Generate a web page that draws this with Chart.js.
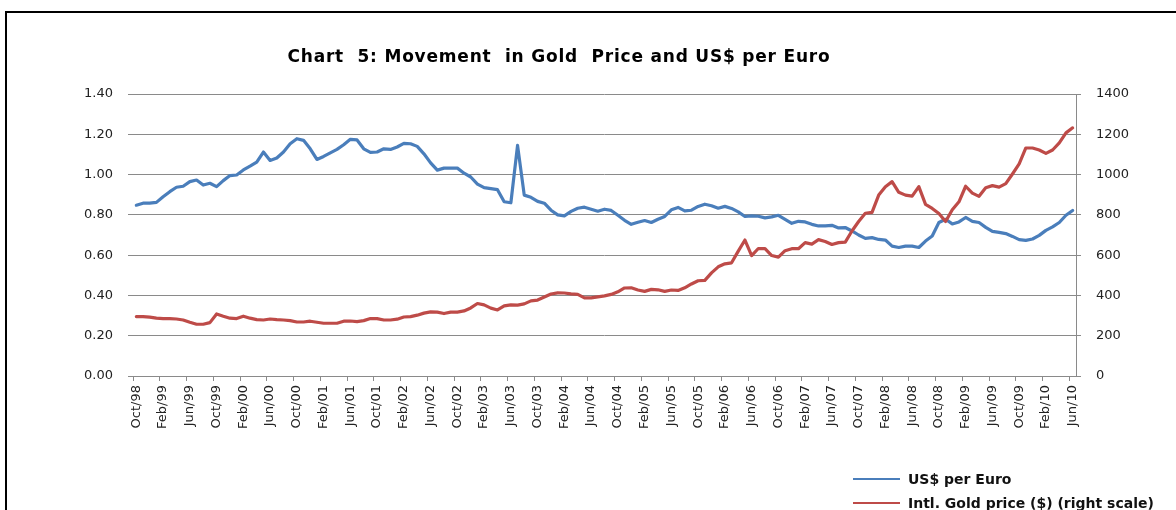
<!DOCTYPE html>
<html>
<head>
<meta charset="utf-8">
<script src="https://cdn.jsdelivr.net/npm/chart.js@4.4.1/dist/chart.umd.min.js"></script>
<style>
  body { margin: 0; background: #fff; }
  #wrap { position: relative; width: 1176px; height: 510px; overflow: hidden; background: #fff; }
  #frame { position: absolute; left: 5px; top: 11px; width: 1300px; height: 600px; border-top: 2px solid #000; border-left: 2px solid #000; }
  #goldChart { position: absolute; left: 0; top: 0; }
  #title { position: absolute; left: 209px; width: 700px; top: 46px; text-align: center; white-space: pre;
           font: bold 17px "DejaVu Sans", sans-serif; letter-spacing: 0.8px; color: #000; }
  #legend { position: absolute; left: 853px; top: 467px; font: bold 14px "DejaVu Sans", sans-serif; color: #111; }
  #legend .row { height: 24px; display: flex; align-items: center; white-space: nowrap; }
  #legend .swatch { width: 47px; height: 2px; margin-right: 8px; }
</style>
</head>
<body>
<div id="wrap">
  <div id="frame"></div>
  <canvas id="goldChart" width="1176" height="510"></canvas>
  <div id="title"></div>
  <div id="legend"></div>
</div>
<script>
// monthly, Oct/98 .. Jun/10
const monthNames = ['Jan', 'Feb', 'Mar', 'Apr', 'May', 'Jun', 'Jul', 'Aug', 'Sep', 'Oct', 'Nov', 'Dec'];
const startYear = 1998;
const startMonth = 9; // Oct
const monthCount = 141;

const chartTitle = 'Chart  5: Movement  in Gold  Price and US$ per Euro';

const usdPerEuro = [
  0.848, 0.858, 0.858, 0.862, 0.89, 0.915, 0.937, 0.942, 0.965, 0.973, 0.948, 0.957, 0.94, 0.97,
  0.995, 0.998, 1.023, 1.042, 1.062, 1.112, 1.07, 1.082, 1.112, 1.153, 1.178, 1.17, 1.128, 1.075,
  1.09, 1.108, 1.125, 1.148, 1.175, 1.172, 1.128, 1.11, 1.112, 1.128, 1.125, 1.137, 1.155, 1.153,
  1.14, 1.103, 1.058, 1.022, 1.032, 1.032, 1.032, 1.007, 0.988, 0.953, 0.935, 0.93, 0.925, 0.865,
  0.86, 1.145, 0.898, 0.887, 0.867, 0.858, 0.823, 0.80, 0.795, 0.817, 0.833, 0.838, 0.828, 0.818,
  0.828, 0.822, 0.798, 0.773, 0.753, 0.763, 0.772, 0.762, 0.778, 0.792, 0.825, 0.837, 0.82, 0.823,
  0.842, 0.853, 0.845, 0.833, 0.842, 0.832, 0.815, 0.792, 0.795, 0.793, 0.785, 0.79, 0.798, 0.778,
  0.758, 0.768, 0.765, 0.753, 0.745, 0.745, 0.748, 0.735, 0.737, 0.72, 0.70, 0.683, 0.687, 0.678,
  0.675, 0.645, 0.638, 0.645, 0.645, 0.638, 0.67, 0.695, 0.762, 0.778, 0.755, 0.765, 0.787, 0.768,
  0.762, 0.738, 0.718, 0.713, 0.707, 0.693, 0.677, 0.673, 0.68, 0.698, 0.723, 0.74, 0.762, 0.798,
  0.822
];

const goldPrice = [
  295, 295, 292, 287, 285, 285, 283, 278, 267, 257, 257, 265, 308, 297,
  287, 285, 297, 287, 280, 278, 283, 280, 278, 275, 268, 268, 272, 267,
  262, 262, 262, 272, 273, 270, 275, 285, 285, 278, 278, 282, 293, 295,
  302, 312, 318, 317, 310, 317, 317, 323, 338, 360, 353, 337, 328, 348,
  353, 352, 358, 373, 377, 392, 407, 413, 412, 408, 405, 388, 388, 393,
  398, 405, 418, 437, 438, 427, 420, 430, 428, 420, 427, 425, 438, 457,
  473, 475, 512, 542, 557, 562, 620, 675, 598, 633, 632, 598, 590, 622,
  632, 632, 662, 655, 677, 668, 653, 662, 665, 720, 767, 808, 812, 898,
  940, 965, 912, 898, 893, 940, 852, 832, 807, 767, 825, 865, 942, 908,
  892, 935, 945, 938, 955, 1003, 1053, 1132, 1132, 1122, 1105, 1122, 1157, 1207,
  1232
];

const leftTicks = [0, 0.2, 0.4, 0.6, 0.8, 1.0, 1.2, 1.4];
const rightTicks = [0, 200, 400, 600, 800, 1000, 1200, 1400];

const monthLabels = [];
for (let i = 0; i < monthCount; i++) {
  const m = (startMonth + i) % 12;
  const y = startYear + Math.floor((startMonth + i) / 12);
  monthLabels.push(`${monthNames[m]}/${String(y).slice(2)}`);
}

const gridGrey = '#8a8a8a';
const tickFont = { family: 'DejaVu Sans', size: 13 };

function renderChart() {
  document.getElementById('title').textContent = chartTitle;

  const ctx = document.getElementById('goldChart').getContext('2d');
  const chart = new Chart(ctx, {
    type: 'line',
    data: {
      labels: monthLabels,
      datasets: [{
        label: 'US$ per Euro',
        data: usdPerEuro,
        yAxisID: 'y',
        borderColor: '#4a7ebb',
        backgroundColor: '#4a7ebb',
        borderWidth: 3.2,
        pointRadius: 0,
        tension: 0,
        borderJoinStyle: 'round',
        borderCapStyle: 'round',
        order: 2
      }, {
        label: 'Intl. Gold price ($) (right scale)',
        data: goldPrice,
        yAxisID: 'y2',
        borderColor: '#be4b48',
        backgroundColor: '#be4b48',
        borderWidth: 3.2,
        pointRadius: 0,
        tension: 0,
        borderJoinStyle: 'round',
        borderCapStyle: 'round',
        order: 1
      }]
    },
    options: {
      responsive: false,
      animation: false,
      layout: { padding: { top: 94, left: 0, right: 0, bottom: 0 } },
      plugins: {
        legend: { display: false },
        tooltip: { enabled: false },
        title: { display: false }
      },
      scales: {
        x: {
          offset: true,
          grid: {
            offset: true,
            drawOnChartArea: false,
            drawTicks: true,
            tickLength: 5,
            color: c => (c.index % 4 === 0 ? gridGrey : 'rgba(0,0,0,0)')
          },
          border: { display: true, color: gridGrey },
          ticks: {
            autoSkip: false,
            minRotation: 90,
            maxRotation: 90,
            padding: 4,
            color: '#222',
            font: tickFont,
            callback: (v, i) => (i % 4 === 0 ? monthLabels[i] : '')
          },
          afterFit: s => { s.height = 134; }
        },
        y: {
          position: 'left',
          min: 0,
          max: 1.4,
          afterBuildTicks: s => { s.ticks = leftTicks.map(v => ({ value: v })); },
          grid: { color: gridGrey, drawTicks: true, tickLength: 5 },
          border: { display: false },
          ticks: {
            padding: 15,
            color: '#222',
            font: tickFont,
            callback: v => Number(v).toFixed(2)
          },
          afterFit: s => { s.width = 133; }
        },
        y2: {
          position: 'right',
          min: 0,
          max: 1400,
          afterBuildTicks: s => { s.ticks = rightTicks.map(v => ({ value: v })); },
          grid: { drawOnChartArea: false, drawTicks: true, tickLength: 5, color: gridGrey },
          border: { display: true, color: gridGrey },
          ticks: { padding: 15, color: '#222', font: tickFont, callback: v => String(v) },
          afterFit: s => { s.width = 100; }
        }
      }
    }
  });

  // legend as html, built from the datasets
  const legend = document.getElementById('legend');
  chart.data.datasets.forEach(ds => {
    const row = document.createElement('div');
    row.className = 'row';
    row.innerHTML = `<span class="swatch" style="background:${ds.borderColor}"></span><span>${ds.label}</span>`;
    legend.appendChild(row);
  });
}

renderChart();
</script>
</body>
</html>
